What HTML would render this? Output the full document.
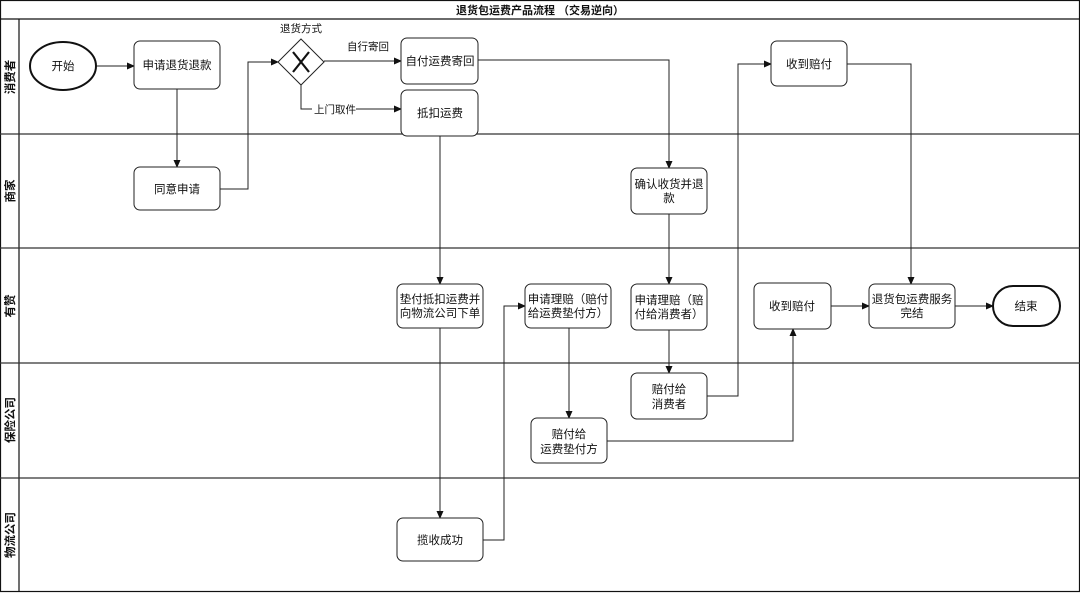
<!DOCTYPE html>
<html><head><meta charset="utf-8"><style>
html,body{margin:0;padding:0;background:#fff;}
svg{display:block;}
text{font-family:"Liberation Sans","Noto Sans CJK SC",sans-serif;font-size:11.5px;fill:#111;}
</style></head><body>
<svg width="1080" height="593" viewBox="0 0 1080 593" xmlns="http://www.w3.org/2000/svg">
<defs><marker id="a" markerWidth="8" markerHeight="8" refX="7" refY="4" orient="auto" markerUnits="userSpaceOnUse"><path d="M0,0.5 L8,4 L0,7.5 z" fill="#111"/></marker></defs>
<rect x="0.5" y="0.5" width="1079" height="591" fill="#fff" stroke="#111" stroke-width="1.2"/>
<line x1="0" y1="19" x2="1080" y2="19" stroke="#111" stroke-width="1.2"/>
<text x="540" y="14" text-anchor="middle" style="font-weight:bold;font-size:11px">退货包运费产品流程 （交易逆向）</text>
<line x1="19" y1="19" x2="19" y2="592" stroke="#111" stroke-width="1.2"/>
<g stroke="#333" stroke-width="1.2">
<line x1="0" y1="134" x2="1080" y2="134"/><line x1="0" y1="248" x2="1080" y2="248"/>
<line x1="0" y1="363" x2="1080" y2="363"/><line x1="0" y1="478" x2="1080" y2="478"/>
</g>
<g style="font-weight:bold;font-size:11px">
<text transform="translate(14,77) rotate(-90)" text-anchor="middle">消费者</text>
<text transform="translate(14,191) rotate(-90)" text-anchor="middle">商家</text>
<text transform="translate(14,306) rotate(-90)" text-anchor="middle">有赞</text>
<text transform="translate(14,420) rotate(-90)" text-anchor="middle">保险公司</text>
<text transform="translate(14,535) rotate(-90)" text-anchor="middle">物流公司</text>
</g>
<!-- connectors -->
<g stroke="#222" stroke-width="1" fill="none" marker-end="url(#a)">
<path d="M96,66 H134"/>
<path d="M177,89 V167"/>
<path d="M220,189 H248 V62 H278"/>
<path d="M324,61 H401"/>
<path d="M301,85 V109 H401"/>
<path d="M478,60 H669 V168"/>
<path d="M440,136 V284"/>
<path d="M669,214 V284"/>
<path d="M669,330 V373"/>
<path d="M707,396 H738 V64 H771"/>
<path d="M847,64 H911 V284"/>
<path d="M440,328 V518"/>
<path d="M483,540 H504 V306 H525"/>
<path d="M569,328 V418"/>
<path d="M607,441 H793 V329"/>
<path d="M831,306 H869"/>
<path d="M955,306 H993"/>
</g>
<rect x="312" y="103" width="44" height="12" fill="#fff"/>
<text x="335" y="113" text-anchor="middle" style="font-size:10.5px">上门取件</text>
<text x="368" y="50" text-anchor="middle" style="font-size:10.5px">自行寄回</text>
<text x="301" y="32" text-anchor="middle" style="font-size:10.5px">退货方式</text>
<!-- gateway -->
<polygon points="301,39 324,62 301,85 278,62" fill="#fff" stroke="#222" stroke-width="1"/>
<path d="M293,52 L309,72 M309,52 L293,72" stroke="#111" stroke-width="2.2"/>
<!-- start/end -->
<ellipse cx="63" cy="66" rx="33" ry="24" fill="#fff" stroke="#111" stroke-width="2"/>
<text x="63" y="70" text-anchor="middle">开始</text>
<rect x="993" y="286" width="67" height="40" rx="20" fill="#fff" stroke="#111" stroke-width="2"/>
<text x="1026" y="310" text-anchor="middle">结束</text>
<!-- boxes -->
<g fill="#fff" stroke="#222" stroke-width="1">
<rect x="134" y="41" width="86" height="48" rx="6"/>
<rect x="134" y="167" width="86" height="43" rx="6"/>
<rect x="401" y="38" width="77" height="46" rx="6"/>
<rect x="401" y="90" width="77" height="46" rx="6"/>
<rect x="631" y="168" width="76" height="46" rx="6"/>
<rect x="771" y="41" width="76" height="45" rx="6"/>
<rect x="397" y="284" width="86" height="44" rx="6"/>
<rect x="525" y="284" width="86" height="44" rx="6"/>
<rect x="631" y="284" width="76" height="46" rx="6"/>
<rect x="754" y="283" width="77" height="46" rx="6"/>
<rect x="869" y="284" width="86" height="44" rx="6"/>
<rect x="631" y="373" width="76" height="46" rx="6"/>
<rect x="531" y="418" width="76" height="45" rx="6"/>
<rect x="397" y="518" width="86" height="43" rx="6"/>
</g>
<g text-anchor="middle">
<text x="177" y="69">申请退货退款</text>
<text x="177" y="193">同意申请</text>
<text x="440" y="65">自付运费寄回</text>
<text x="440" y="117">抵扣运费</text>
<text x="669" y="188">确认收货并退</text><text x="669" y="202">款</text>
<text x="809" y="68">收到赔付</text>
<text x="440" y="303">垫付抵扣运费并</text><text x="440" y="317">向物流公司下单</text>
<text x="568" y="303">申请理赔（赔付</text><text x="568" y="317">给运费垫付方）</text>
<text x="669" y="304">申请理赔（赔</text><text x="669" y="318">付给消费者）</text>
<text x="792" y="310">收到赔付</text>
<text x="912" y="303">退货包运费服务</text><text x="912" y="317">完结</text>
<text x="669" y="393">赔付给</text><text x="669" y="408">消费者</text>
<text x="569" y="438">赔付给</text><text x="569" y="453">运费垫付方</text>
<text x="440" y="544">揽收成功</text>
</g>
</svg>
</body></html>
